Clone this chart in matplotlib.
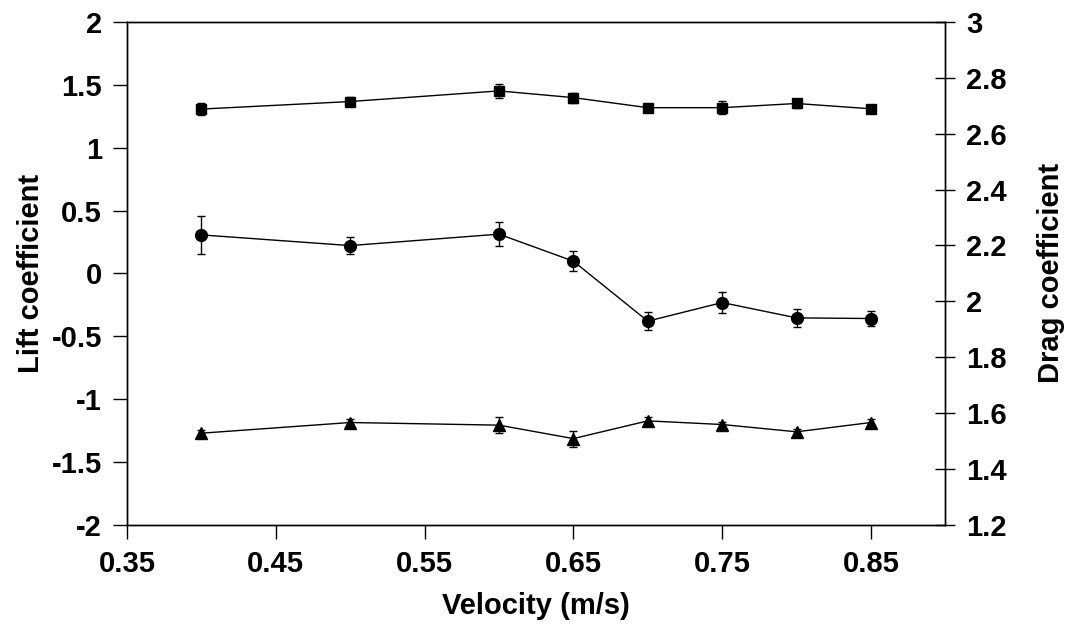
import numpy as np
import matplotlib
matplotlib.use("Agg")
import matplotlib.pyplot as plt

plt.rcParams['font.family'] = ['Liberation Sans', 'DejaVu Sans']
plt.rcParams['font.weight'] = 'bold'

velocity = [0.40, 0.50, 0.60, 0.65, 0.70, 0.75, 0.80, 0.85]

# drag coefficient (squares, right axis)
drag = [2.688, 2.715, 2.753, 2.729, 2.693, 2.693, 2.708, 2.689]
drag_err = [0.021, 0.015, 0.024, 0.018, 0.014, 0.024, 0.015, 0.014]

# lift coefficient (circles, left axis)
lift = [0.306, 0.221, 0.312, 0.097, -0.380, -0.232, -0.354, -0.359]
lift_err = [0.154, 0.065, 0.093, 0.082, 0.072, 0.082, 0.072, 0.057]

# second lift series (triangles, left axis)
lift2 = [-1.271, -1.186, -1.207, -1.314, -1.173, -1.202, -1.260, -1.186]
lift2_err = [0.025, 0.030, 0.062, 0.064, 0.030, 0.020, 0.025, 0.030]

FS = 21

fig = plt.figure(figsize=(10.67, 6.44), dpi=100)
ax = fig.add_axes([0.119, 0.185, 0.767, 0.781])
ax2 = ax.twinx()

ebkw = dict(color='black', lw=1.0, elinewidth=1.0, capsize=3, capthick=1.0)
ax.errorbar(velocity, lift, yerr=lift_err, marker='o', ms=8.5, **ebkw)
ax.errorbar(velocity, lift2, yerr=lift2_err, marker='^', ms=8.5, **ebkw)
ax2.errorbar(velocity, drag, yerr=drag_err, marker='s', ms=6.5, **ebkw)

ax.set_xlim(0.35, 0.9)
ax.set_ylim(-2, 2)
ax2.set_ylim(1.2, 3)
ax.set_xticks([0.35, 0.45, 0.55, 0.65, 0.75, 0.85])
ax.set_xticklabels(['0.35', '0.45', '0.55', '0.65', '0.75', '0.85'])
ax.set_yticks(np.arange(-2, 2.01, 0.5))
ax.set_yticklabels(['-2', '-1.5', '-1', '-0.5', '0', '0.5', '1', '1.5', '2'])
ax2.set_yticks(np.arange(1.2, 3.01, 0.2))
ax2.set_yticklabels(['1.2', '1.4', '1.6', '1.8', '2', '2.2', '2.4', '2.6', '2.8', '3'])

ax.tick_params(axis='both', direction='out', length=10, width=1, labelsize=FS, pad=8)
ax2.tick_params(axis='y', direction='inout', length=14, width=1, labelsize=FS, pad=8)

ax.set_xlabel('Velocity (m/s)', fontsize=FS, fontweight='bold', labelpad=10)
ax.set_ylabel('Lift coefficient', fontsize=FS, fontweight='bold', labelpad=5)
ax2.set_ylabel('Drag coefficient', fontsize=FS, fontweight='bold', labelpad=22)

for a in (ax, ax2):
    for s in a.spines.values():
        s.set_linewidth(1.0)
        s.set_color('black')

fig.savefig('out.png', dpi=100)
